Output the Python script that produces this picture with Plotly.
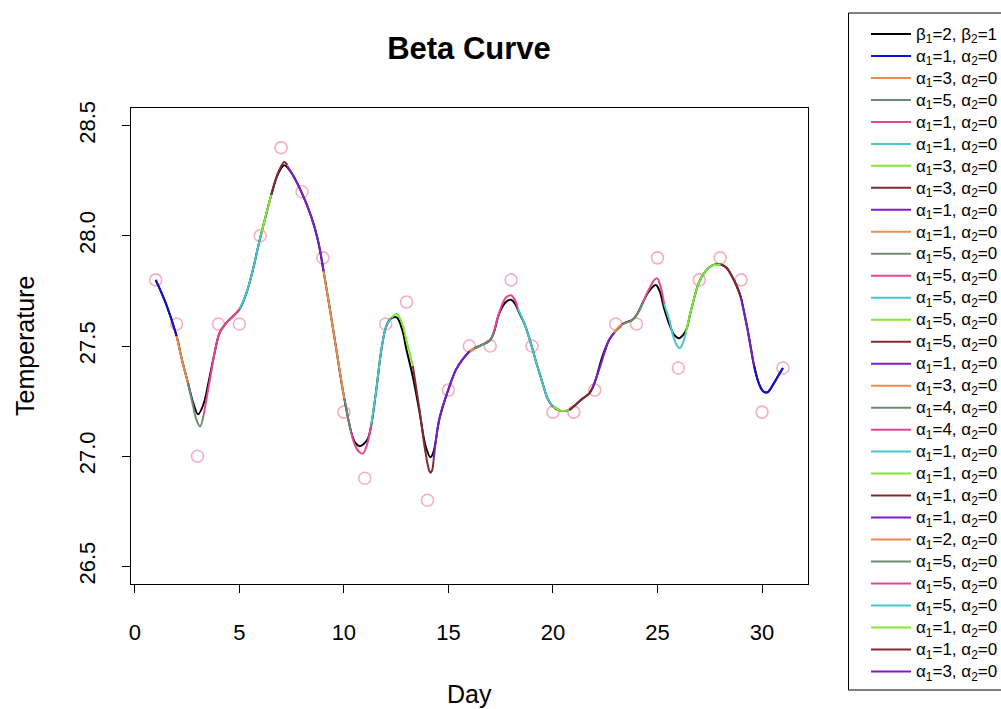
import plotly.graph_objects as go

# ---------------- data ----------------
days = list(range(1, 32))
temps = [27.8, 27.6, 27.0, 27.6, 27.6, 28.0, 28.4, 28.2, 27.9, 27.2, 26.9,
         27.6, 27.7, 26.8, 27.3, 27.5, 27.5, 27.8, 27.5, 27.2, 27.2, 27.3,
         27.6, 27.6, 27.9, 27.4, 27.8, 27.9, 27.8, 27.2, 27.4]

# overall beta fit (black curve)
fit_x = [1.0, 1.5, 2.0, 2.25, 2.55, 2.8, 3.03, 3.3, 3.58, 3.82, 4.06, 4.38, 4.7,
         5.02, 5.34, 5.65, 5.97, 6.29, 6.53, 6.85, 7.15, 7.5, 7.99, 8.44, 8.76,
         9.03, 9.31, 9.63, 9.95, 10.35, 10.55, 10.75, 10.95, 11.15, 11.31, 11.55,
         11.79, 12.03, 12.27, 12.53, 12.8, 12.98, 13.3, 13.62, 13.9, 14.14, 14.29,
         14.57, 14.99, 15.37, 15.69, 16.02, 16.26, 16.6, 16.98, 17.17, 17.44,
         17.75, 18.0, 18.2, 18.39, 18.64, 18.98, 19.25, 19.51, 19.75, 19.99, 20.3,
         20.54, 20.79, 21.1, 21.4, 21.74, 21.98, 22.38, 22.7, 22.93, 23.33, 23.82,
         24.06, 24.29, 24.5, 24.69, 24.92, 25.1, 25.32, 25.56, 25.8, 26.0, 26.12,
         26.36, 26.6, 26.99, 27.3, 27.6, 28.03, 28.3, 28.6, 28.8, 28.99, 29.15,
         29.3, 29.45, 29.62, 29.85, 30.05, 30.26, 30.5, 30.75, 31.0]
fit_y = [27.80, 27.69, 27.545, 27.44, 27.33, 27.24, 27.19, 27.24, 27.36, 27.47,
         27.56, 27.605, 27.635, 27.668, 27.74, 27.846, 27.98, 28.10, 28.186,
         28.28, 28.32, 28.285, 28.195, 28.087, 27.98, 27.84, 27.68, 27.49, 27.30,
         27.11, 27.06, 27.045, 27.055, 27.08, 27.14, 27.30, 27.48, 27.59, 27.625,
         27.63, 27.57, 27.49, 27.36, 27.20, 27.05, 26.995, 27.02, 27.17, 27.30,
         27.394, 27.44, 27.476, 27.49, 27.505, 27.525, 27.56, 27.65, 27.70, 27.71,
         27.69, 27.65, 27.60, 27.50, 27.41, 27.33, 27.26, 27.227, 27.208, 27.205,
         27.21, 27.235, 27.26, 27.285, 27.33, 27.457, 27.53, 27.56, 27.60, 27.62,
         27.65, 27.695, 27.735, 27.76, 27.777, 27.75, 27.67, 27.60, 27.55, 27.535,
         27.54, 27.57, 27.66, 27.79, 27.84, 27.865, 27.87, 27.855, 27.81, 27.77,
         27.72, 27.65, 27.58, 27.50, 27.41, 27.33, 27.295, 27.29, 27.32, 27.36,
         27.40]

# local fits (coloured pieces)
seg_x = [
    [1.0, 1.5, 2.0],
    [2.0, 2.25, 2.55],
    [2.55, 2.75, 2.95, 3.12, 3.3],
    [3.3, 3.58, 3.82, 4.06, 4.38, 4.7, 5.02],
    [5.02, 5.34, 5.65, 5.97, 6.05],
    [6.05, 6.29, 6.53],
    [6.53, 6.85, 7.15, 7.3],
    [7.3, 7.5, 7.99, 8.44, 8.76, 9.03],
    [9.03, 9.31, 9.63, 9.95, 10.03],
    [10.03, 10.2, 10.35],
    [10.35, 10.55, 10.75, 10.91, 11.1, 11.31],
    [11.31, 11.55, 11.79, 12.03, 12.27],
    [12.27, 12.53, 12.8, 12.98, 13.15, 13.3],
    [13.3, 13.62, 13.9, 14.08, 14.15, 14.22, 14.29],
    [14.29, 14.57, 14.99, 15.37, 15.69, 16.02],
    [16.02, 16.14, 16.26],
    [16.26, 16.6, 16.98, 17.17],
    [17.17, 17.44, 17.75, 18.0, 18.2, 18.32],
    [18.32, 18.64, 18.98, 19.25, 19.51, 19.75, 19.99],
    [19.99, 20.3, 20.54, 20.79],
    [20.79, 21.1, 21.4, 21.74, 21.9],
    [21.9, 22.2, 22.5, 22.7, 22.93],
    [22.93, 23.13, 23.33],
    [23.33, 23.82, 24.06, 24.29],
    [24.29, 24.5, 24.69, 24.85, 24.99, 25.15, 25.32],
    [25.32, 25.56, 25.8, 25.95, 26.07, 26.2, 26.36],
    [26.36, 26.6, 26.99, 27.3, 27.6, 28.03],
    [28.03, 28.3, 28.6, 28.8, 28.99],
    [28.99, 29.15, 29.3, 29.45, 29.62],
    [29.62, 29.85, 30.05, 30.26, 30.5, 30.75, 31.0],
]
seg_y = [
    [27.80, 27.69, 27.545],
    [27.545, 27.44, 27.33],
    [27.33, 27.245, 27.165, 27.135, 27.19],
    [27.19, 27.34, 27.47, 27.56, 27.605, 27.635, 27.668],
    [27.668, 27.74, 27.846, 27.98, 28.01],
    [28.01, 28.10, 28.186],
    [28.186, 28.285, 28.335, 28.32],
    [28.315, 28.285, 28.195, 28.087, 27.98, 27.84],
    [27.84, 27.68, 27.49, 27.30, 27.26],
    [27.26, 27.175, 27.107],
    [27.107, 27.045, 27.018, 27.012, 27.05, 27.14],
    [27.14, 27.30, 27.48, 27.59, 27.625],
    [27.628, 27.645, 27.60, 27.53, 27.47, 27.41],
    [27.41, 27.21, 27.02, 26.935, 26.925, 26.935, 26.98],
    [26.98, 27.17, 27.30, 27.394, 27.44, 27.476],
    [27.476, 27.484, 27.49],
    [27.49, 27.505, 27.525, 27.56],
    [27.56, 27.655, 27.72, 27.73, 27.705, 27.67],
    [27.67, 27.60, 27.50, 27.41, 27.33, 27.26, 27.227],
    [27.227, 27.208, 27.205, 27.21],
    [27.21, 27.235, 27.26, 27.285, 27.31],
    [27.31, 27.39, 27.48, 27.53, 27.56],
    [27.56, 27.585, 27.60],
    [27.60, 27.62, 27.65, 27.695],
    [27.695, 27.74, 27.775, 27.80, 27.807, 27.77, 27.69],
    [27.69, 27.62, 27.53, 27.50, 27.49, 27.51, 27.56],
    [27.56, 27.66, 27.79, 27.84, 27.865, 27.87],
    [27.87, 27.855, 27.81, 27.77, 27.72],
    [27.72, 27.65, 27.58, 27.50, 27.41],
    [27.41, 27.33, 27.295, 27.29, 27.32, 27.36, 27.40],
]
seg_alpha1 = [1, 3, 5, 1, 1, 3, 3, 1, 1, 5, 5, 5, 5, 5, 1, 3, 4, 4, 1, 1, 1, 1,
              2, 5, 5, 5, 1, 1, 3, None]
palette = ["#1212D2", "#EE8A4E", "#718A76", "#E8449A", "#47C6CF",
           "#7FE83A", "#842A2E", "#7A1FC8"]
seg_color_idx = [0] + [1 + (i % 7) for i in range(28)] + [0]

x_ticks = [0, 5, 10, 15, 20, 25, 30]
y_ticks = [26.5, 27.0, 27.5, 28.0, 28.5]

# ---------------- figure ----------------
W, H = 1001, 709
MT, MB = 10, 10
PH = H - MT - MB


def px_x(p):
    return p / W


def px_y(p):
    return (H - MB - p) / PH


FONT = "Liberation Sans, Arial, Helvetica, sans-serif"
LEG_SPAN = '<span style="font-size:17px">{}</span>'

fig = go.Figure()

fig.add_trace(go.Scatter(
    x=days, y=temps, mode="markers", showlegend=False, hoverinfo="skip",
    marker=dict(symbol="circle-open", size=12, color="#F6AFC0",
                line=dict(width=1.6, color="#F6AFC0"))))

fig.add_trace(go.Scatter(
    x=fit_x, y=fit_y, mode="lines",
    name=LEG_SPAN.format("β<sub>1</sub>=2, β<sub>2</sub>=1"),
    line=dict(color="black", width=2, shape="spline")))

for i, (sx, sy) in enumerate(zip(seg_x, seg_y)):
    a1 = seg_alpha1[i]
    label = (LEG_SPAN.format(f"α<sub>1</sub>={a1}, α<sub>2</sub>=0")
             if a1 is not None else "")
    fig.add_trace(go.Scatter(
        x=sx, y=sy, mode="lines", name=label,
        showlegend=a1 is not None,
        line=dict(color=palette[seg_color_idx[i]], width=2, shape="spline")))

axis_common = dict(showgrid=False, zeroline=False, showline=True, mirror=True,
                   linecolor="black", linewidth=1, ticks="outside", ticklen=8,
                   tickwidth=1, tickcolor="black",
                   tickfont=dict(family=FONT, size=22, color="black"))

fig.update_xaxes(range=[-0.2, 32.2], domain=[px_x(130.6), px_x(808)],
                 tickvals=x_ticks, ticklabelstandoff=21, **axis_common)
fig.update_yaxes(range=[26.42, 28.58], domain=[px_y(584), px_y(108)],
                 tickvals=y_ticks, tickformat=".1f", tickangle=-90,
                 ticklabelstandoff=18, **axis_common)

fig.add_annotation(x=px_x(469), y=px_y(694), xref="paper", yref="paper",
                   xanchor="center", yanchor="middle",
                   text="Day", showarrow=False,
                   font=dict(family=FONT, size=25, color="black"))
fig.add_annotation(x=px_x(25), y=px_y(346), xref="paper", yref="paper",
                   xanchor="center", yanchor="middle",
                   text="Temperature", showarrow=False, textangle=-90,
                   font=dict(family=FONT, size=25, color="black"))

# legend frame (extends past the right edge like the original)
fig.add_shape(type="rect", xref="paper", yref="paper",
              x0=px_x(848.5), x1=px_x(1012), y0=px_y(690), y1=px_y(13),
              line=dict(color="black", width=1), fillcolor="rgba(0,0,0,0)")

fig.update_layout(
    width=W, height=H,
    margin=dict(l=0, r=0, t=MT, b=MB, autoexpand=False),
    paper_bgcolor="white", plot_bgcolor="white",
    title=dict(text="<b>Beta Curve</b>", x=469 / W, xanchor="center",
               y=1 - 48 / H, yanchor="middle", yref="container",
               font=dict(family=FONT, size=31, color="black")),
    legend=dict(x=px_x(866), y=px_y(18), xanchor="left", yanchor="top",
                bgcolor="rgba(0,0,0,0)", borderwidth=0,
                font=dict(family=FONT, size=14.6, color="black"),
                itemwidth=40, tracegroupgap=0),
    showlegend=True,
)

fig.write_html(
    "out.html",
    config={"displayModeBar": False},
    post_script="document.body.style.margin='0';"
                "document.body.style.overflow='hidden';",
)
